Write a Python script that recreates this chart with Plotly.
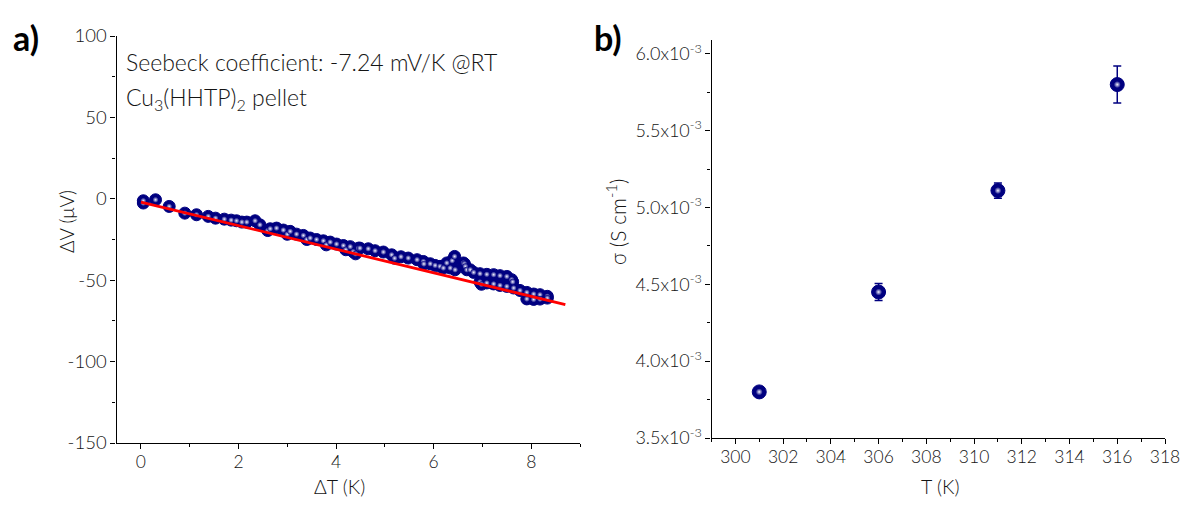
import plotly.graph_objects as go

# ---------------- Panel a data (Seebeck) ----------------
dT = [0.05, 0.05, 0.30, 0.58, 0.90, 1.14, 1.38, 1.53, 1.71, 1.85, 1.96, 2.07, 2.17,
      2.34, 2.44, 2.60, 2.65, 2.78, 2.92, 3.00, 3.06, 3.19, 3.33, 3.40, 3.47, 3.60,
      3.74, 3.80, 3.88, 4.01, 4.15, 4.20, 4.29, 4.35, 4.40, 4.46, 4.49, 4.66, 4.80,
      4.97, 5.14, 5.20, 5.33, 5.48, 5.66, 5.79, 5.80, 5.93, 6.03, 6.13, 6.20, 6.27,
      6.34, 6.38, 6.43, 6.44, 6.61, 6.63, 6.65, 6.68, 6.75, 6.82, 6.95, 6.95, 6.98,
      7.09, 7.09, 7.23, 7.23, 7.36, 7.36, 7.50, 7.50, 7.60, 7.62, 7.64, 7.77, 7.91,
      7.91, 8.05, 8.05, 8.18, 8.18, 8.33, 8.33]
dV = [-2.6, -1.2, -0.6, -4.7, -8.8, -9.8, -10.8, -11.9, -12.5, -13.1, -13.5, -14.3, -14.3,
      -13.5, -16.0, -19.5, -18.4, -18.0, -19.2, -21.8, -20.0, -21.7, -22.5, -25.0, -24.1, -25.0,
      -25.8, -28.3, -26.6, -27.8, -28.7, -31.3, -29.4, -32.5, -33.8, -30.3, -30.3, -30.7, -31.9,
      -32.7, -34.4, -36.5, -35.6, -36.4, -37.4, -38.5, -40.0, -39.9, -40.9, -41.5, -42.5, -39.4,
      -42.5, -38.0, -35.4, -43.6, -39.4, -39.9, -41.5, -43.6, -43.6, -45.2, -46.0, -51.1, -52.5,
      -46.4, -51.7, -46.6, -52.3, -47.2, -53.2, -47.7, -53.8, -49.7, -51.0, -54.8, -56.3, -57.5,
      -61.5, -58.5, -61.8, -58.9, -61.6, -59.9, -61.0]

# linear fit line (endpoints)
fit_x = [0.0, 8.7]
fit_y = [-2.0, -65.0]

ya_ticks = [-150, -100, -50, 0, 50, 100]
ya_text = ["-150", "-100", "-50", "0", "50", "100"]

# ---------------- Panel b data (conductivity) ----------------
T = [301, 306, 311, 316]
sigma = [3.80e-3, 4.45e-3, 5.11e-3, 5.80e-3]
sigma_err = [0.01e-3, 0.055e-3, 0.05e-3, 0.12e-3]

yb_ticks = [3.5e-3, 4.0e-3, 4.5e-3, 5.0e-3, 5.5e-3, 6.0e-3]
yb_text = ["3.5x10<sup>-3</sup>", "4.0x10<sup>-3</sup>", "4.5x10<sup>-3</sup>",
           "5.0x10<sup>-3</sup>", "5.5x10<sup>-3</sup>", "6.0x10<sup>-3</sup>"]

NAVY = "#000080"
FONT = "Lato"
TXT = "#141414"
OFF = 8                      # page body margin
W, H = 1189 - 2 * OFF, 507 - 2 * OFF

fig = go.Figure()

# panel a markers: dark sphere + highlight
fig.add_trace(go.Scatter(x=dT, y=dV, mode="markers", xaxis="x", yaxis="y",
                         marker=dict(size=12, color=NAVY, line=dict(color=NAVY, width=1)),
                         showlegend=False, hoverinfo="skip"))
fig.add_trace(go.Scatter(x=dT, y=dV, mode="markers", xaxis="x", yaxis="y",
                         marker=dict(size=6, color=NAVY,
                                     gradient=dict(type="radial", color="#f4f4ff"),
                                     line=dict(width=0)),
                         showlegend=False))
fig.add_trace(go.Scatter(x=fit_x, y=fit_y, mode="lines", xaxis="x", yaxis="y",
                         line=dict(color="#ff0000", width=2.8), showlegend=False))

# panel b
fig.add_trace(go.Scatter(x=T, y=sigma, mode="markers", xaxis="x2", yaxis="y2",
                         error_y=dict(type="data", array=sigma_err, visible=True,
                                      color=NAVY, thickness=1.5, width=4),
                         marker=dict(size=14, color=NAVY, line=dict(color=NAVY, width=1)),
                         showlegend=False))
fig.add_trace(go.Scatter(x=T, y=sigma, mode="markers", xaxis="x2", yaxis="y2",
                         marker=dict(size=7, color=NAVY,
                                     gradient=dict(type="radial", color="#f4f4ff"),
                                     line=dict(width=0)),
                         showlegend=False))

axis_common = dict(showline=True, linecolor="#000000", linewidth=1.3, showgrid=False,
                   zeroline=False, ticks="outside", ticklen=5, tickwidth=1.2,
                   tickcolor="#000000", mirror=False, ticklabeloverflow="allow",
                   automargin=False)
tf_ya = dict(family=FONT, size=18.5, color=TXT, weight=300)
tf_x = dict(family=FONT, size=17.5, color=TXT, weight=300)
tf_yb = dict(family=FONT, size=18, color=TXT, weight=300)


def px(x):
    return (x - OFF) / W


def py(y):
    return 1 - (y - OFF) / H


fig.update_layout(
    width=W, height=H, autosize=False,
    margin=dict(l=0, r=0, t=0, b=0, pad=0),
    paper_bgcolor="white", plot_bgcolor="white",
    font=dict(family=FONT, color=TXT),
    xaxis=dict(domain=[px(116.5), px(580)], range=[-0.5, 9], tickvals=[0, 2, 4, 6, 8],
               minor=dict(ticks="outside", ticklen=3, dtick=1, tickcolor="#000000"),
               anchor="y", tickfont=tf_x, ticklabelstandoff=-2, **axis_common),
    yaxis=dict(domain=[py(443), py(36)], range=[-150, 100],
               tickvals=ya_ticks, ticktext=ya_text,
               minor=dict(ticks="outside", ticklen=3, dtick=25, tickcolor="#000000"),
               anchor="x", tickfont=tf_ya, **axis_common),
    xaxis2=dict(domain=[px(711.5), px(1165)], range=[299, 318],
                tickvals=list(range(300, 319, 2)),
                minor=dict(ticks="outside", ticklen=3, dtick=1, tickcolor="#000000"),
                anchor="y2", tickfont=tf_x, ticklabelstandoff=-2, **axis_common),
    yaxis2=dict(domain=[py(438), py(40)], range=[3.5e-3, 6.09e-3],
                tickvals=yb_ticks, ticktext=yb_text,
                minor=dict(ticks="outside", ticklen=3, dtick=0.25e-3, tick0=3.5e-3,
                           tickcolor="#000000"),
                anchor="x2", tickfont=tf_yb, **axis_common),
)

ann = [
    dict(text="ΔV (μV)", x=px(66), y=py(222), textangle=-90, font=dict(size=19)),
    dict(text="ΔT (K)", x=px(339), y=py(486), font=dict(size=19.5)),
    dict(text="σ (S cm<sup>-1</sup>)", x=px(616), y=py(222), textangle=-90, font=dict(size=21)),
    dict(text="T (K)", x=px(940), y=py(486), font=dict(size=19.5)),
    dict(text="<b>a)</b>", x=px(11), y=py(37), xanchor="left",
         font=dict(size=34, color="#000000", weight=700)),
    dict(text="<b>b)</b>", x=px(592), y=py(37), xanchor="left",
         font=dict(size=34, color="#000000", weight=700)),
    dict(text="Seebeck coefficient: -7.24 mV/K @RT", x=px(124), y=py(62), xanchor="left",
         font=dict(size=23)),
    dict(text="Cu<sub>3</sub>(HHTP)<sub>2</sub> pellet", x=px(124), y=py(98), xanchor="left",
         font=dict(size=23)),
]
for a in ann:
    a.setdefault("xanchor", "center")
    f = a["font"]
    f.setdefault("family", FONT)
    f.setdefault("color", TXT)
    f.setdefault("weight", 300)
    fig.add_annotation(xref="paper", yref="paper", showarrow=False, yanchor="middle", **a)

fig.write_html("out.html")
